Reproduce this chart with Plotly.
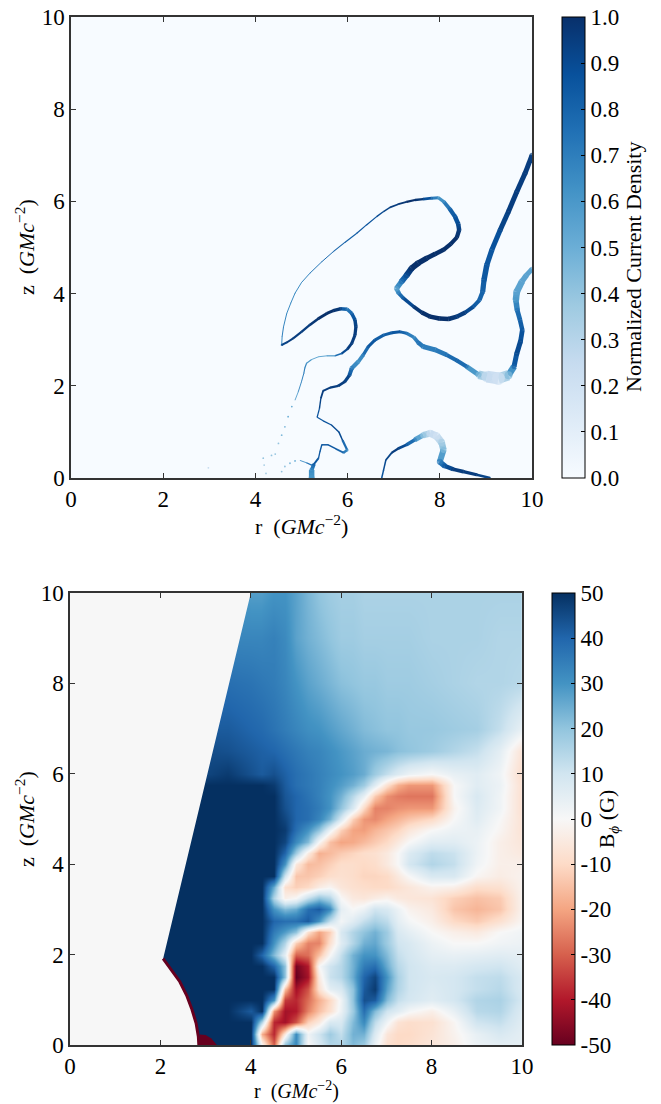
import plotly.graph_objects as go

# ---------- top panel: current-sheet strands (r, z, width px, normalized J) ----------
A_R = [4.57,4.58,4.61,4.68,4.77,4.86,5.00,5.18,5.44,5.69,5.94,6.20,6.41,6.63,6.78,6.92,7.10,7.28,7.46,7.64,7.82,7.97,8.09,8.22,8.33,8.40,8.42,8.37,8.24,8.08,7.90,7.72,7.53,7.39,7.28,7.17,7.06,7.11,7.21,7.43,7.61,7.79,7.99,8.19,8.37,8.55,8.73,8.86,8.93,8.96,9.02,9.13,9.31,9.49,9.67,9.85,10.0]
A_Z = [2.885,3.07,3.28,3.57,3.80,4.01,4.24,4.44,4.69,4.91,5.11,5.31,5.49,5.67,5.78,5.87,5.94,5.99,6.03,6.05,6.07,6.08,5.99,5.83,5.67,5.51,5.38,5.22,5.08,4.95,4.86,4.77,4.66,4.55,4.40,4.26,4.11,4.01,3.90,3.72,3.59,3.50,3.46,3.45,3.50,3.59,3.72,3.86,4.04,4.30,4.62,4.95,5.38,5.78,6.21,6.61,7.0]
A_W = [1,1,1,1,1,1,1,1,1,1,1.1,1.2,1.2,1.3,1.4,1.5,1.8,2,2.2,2.5,3,3,3.5,4,4.5,4.5,4.5,4,4,4.5,4.5,5,6,6,6,5.5,5,4,3.5,3.5,4,4.5,4.5,4.5,4.5,4,4,4,5,5.5,5.5,5,5,5,5,5,5]
A_V = [.6,.7,.7,.65,.65,.65,.65,.7,.75,.8,.8,.85,.85,.9,.9,.95,.95,1,1,.95,.8,.6,.65,.8,.85,.9,.95,1,1,1,1,1,1,1,.9,.75,.55,.7,.85,.95,1,1,1,1,.95,.95,.85,.8,.8,.85,.85,.85,.9,.95,.95,.95,.95]

B_R = [4.57,4.68,4.82,5.00,5.18,5.37,5.55,5.69,5.84,5.99,6.09,6.16,6.18,6.16,6.09,6.00,5.87,5.73,5.55,5.37,5.22,5.11,5.07,5.05,5.00,4.93,4.86]
B_Z = [2.885,2.94,3.03,3.17,3.32,3.46,3.57,3.63,3.67,3.66,3.57,3.43,3.28,3.10,2.92,2.80,2.70,2.65,2.65,2.63,2.57,2.49,2.38,2.27,2.09,1.87,1.69]
B_W = [2,2,2,2.2,2.5,2.8,3,3,3.5,3.5,3.5,3.5,3.5,3,3,2.5,1.8,1.3,1,1,1,1.2,1.2,1,1,.9,.8]
B_V = [.9,.95,.95,.95,.95,1,1,1,.95,.7,.8,.9,.95,.95,.95,.95,.85,.7,.55,.5,.55,.65,.7,.7,.7,.65,.55]

C_R = [10,9.88,9.78,9.67,9.65,9.68,9.74,9.79,9.75,9.67,9.61,9.49,9.27,9.02,8.84,8.58,8.37,8.15,7.90,7.64,7.53,7.44,7.28,7.14,6.96,6.78,6.59,6.45,6.34,6.23,6.09,6.04,5.94,5.80,5.62,5.47,5.42,5.39,5.34,5.47,5.65,5.81,5.89,5.99,5.91,5.75,5.58,5.44,5.40,5.37,5.27,5.22,5.22]
C_Z = [4.53,4.40,4.26,4.04,3.86,3.64,3.43,3.21,2.96,2.70,2.42,2.23,2.16,2.20,2.24,2.42,2.55,2.67,2.78,2.85,2.94,3.05,3.14,3.17,3.15,3.10,2.99,2.85,2.67,2.52,2.38,2.23,2.09,2.00,1.96,1.89,1.73,1.51,1.32,1.24,1.15,1.00,.82,.61,.55,.63,.72,.72,.57,.43,.30,.17,0]
C_W = [5,5,6,7,6,5,4.5,4.5,5,5,5,8,13,11,6,4,4,4,5,5,4,3.5,3,3,3,3,3,3,3.5,4,4.5,3.5,3,2.5,2,2,1.5,1.3,1.2,1.2,1.3,1.5,1.5,3,2,1.5,1.5,1.5,1.3,1.3,2.5,5,6]
C_V = [.55,.55,.55,.55,.6,.75,.8,.85,.9,.9,.8,.45,.2,.25,.45,.75,.8,.75,.7,.7,.75,.65,.75,.85,.85,.8,.85,.85,.7,.6,.7,.9,.95,.95,.95,.95,.95,.9,.85,.85,.9,.9,.9,.65,.75,.85,.85,.85,.85,.85,.85,.65,.6]

D_R = [6.74,6.78,6.83,6.96,7.10,7.28,7.46,7.64,7.79,7.93,8.04,8.08,8.00,8.11,8.29,8.51,8.80,9.09]
D_Z = [0,.17,.39,.55,.64,.72,.83,.93,.97,.91,.77,.61,.35,.26,.19,.14,.07,0]
D_W = [1.5,1.5,1.5,2,2.5,3,4,6,7,7.5,7,6,6,5,4,3.5,3,2]
D_V = [.85,.9,.9,.95,.95,.85,.7,.4,.25,.2,.35,.45,.7,.85,.95,.95,.95,.9]

E_R = [4.97,5.11,5.22]
E_Z = [.38,.33,.28]
E_W = [.8,1,1.5]
E_V = [.6,.7,.8]

DOT_R = [4.79,4.71,4.64,4.57,4.50,4.43,4.35,4.17,4.19,4.23,4.57,4.64,4.75,4.86,2.98]
DOT_Z = [1.55,1.33,1.11,.93,.75,.52,.49,.43,.28,.10,.14,.25,.32,.37,.22]
DOT_V = [.5,.5,.45,.45,.4,.4,.4,.4,.35,.35,.4,.4,.45,.5,.25]

# ---------- bottom panel: B_phi read on a grid ----------
GRID_R = [2,3,3.5,4,4.25,4.5,4.75,5,5.25,5.5,5.75,6,6.25,6.5,6.75,7,7.25,7.5,8,8.5,9,9.5,10]
GRID_Z = [0,.25,.5,.75,1,1.25,1.5,1.75,2,2.25,2.5,2.75,3,3.25,3.5,3.75,4,4.25,4.5,4.75,5,5.25,5.5,5.75,6,6.5,7,8,9,10]
BPHI = [
 [50,50,50,50,0,-30,20,32,0,8,15,15,22,18,3,-8,-10,-9,-6,-3,3,5,5],
 [50,50,50,50,-18,-38,-5,32,2,10,18,12,24,24,7,-6,-10,-10,-7,-2,4,8,5],
 [50,50,50,50,15,-38,-42,-32,-12,-5,8,8,22,32,13,2,-7,-9,-8,-1,10,12,6],
 [50,50,50,42,50,-22,-42,-40,-25,-15,-8,3,18,38,22,10,6,1,-3,4,14,15,7],
 [50,50,50,50,50,30,-35,-38,-28,-18,-10,2,20,44,42,22,12,9,6,9,15,16,9],
 [50,50,50,50,50,50,-15,-42,-32,-8,5,8,20,42,48,27,15,10,7,9,12,14,8],
 [50,50,50,50,50,50,20,-50,-42,-5,11,14,25,40,46,30,16,10,8,9,12,13,8],
 [50,50,50,50,50,40,20,-48,-40,0,10,14,24,35,38,25,14,10,7,7,9,10,6],
 [50,50,50,50,40,22,5,-30,-28,-15,0,12,24,30,30,22,12,9,5,4,5,6,5],
 [50,50,50,50,50,30,15,-12,-25,-25,-8,6,15,24,26,18,10,8,3,0,0,2,3],
 [50,50,50,50,50,35,28,20,-8,-20,-12,8,15,20,24,18,8,5,0,-3,-5,0,2],
 [50,50,50,50,50,40,38,38,42,30,12,1,6,12,16,13,5,1,-3,-10,-13,-8,-1],
 [50,50,50,50,50,30,22,25,38,42,32,5,0,3,10,8,3,-2,-5,-14,-17,-14,-2],
 [50,50,50,50,50,15,-3,0,12,20,15,0,-5,-6,-4,-2,-5,-6,-7,-12,-15,-13,-2],
 [50,50,50,50,50,25,-8,-12,-10,-4,-1,-6,-8,-9,-10,-10,-8,-6,-2,-3,-9,-8,-2],
 [50,50,50,50,50,50,10,-14,-14,-12,-9,-8,-9,-11,-11,-10,-5,0,8,8,-1,-4,-2],
 [50,50,50,50,50,50,30,-5,-16,-15,-12,-9,-9,-10,-9,-5,0,9,15,12,2,-3,-3],
 [50,50,50,50,50,50,40,18,-4,-18,-16,-13,-11,-9,-8,-5,0,7,13,11,3,-3,-5],
 [50,50,50,50,50,50,46,32,22,0,-15,-20,-19,-16,-13,-10,-5,0,6,6,3,-3,-6],
 [50,50,50,50,50,50,48,38,30,20,3,-12,-20,-21,-17,-14,-11,-6,0,3,4,-1,-7],
 [50,50,50,50,50,50,46,40,38,33,24,8,-12,-22,-24,-20,-17,-14,-10,0,6,0,-7],
 [50,50,50,50,50,50,44,40,38,35,30,20,8,-10,-25,-25,-23,-22,-22,-2,7,2,-8],
 [50,50,50,50,50,50,43,40,37,34,30,24,14,4,-13,-23,-26,-27,-27,0,8,2,-8],
 [50,50,50,50,50,48,42,38,36,34,31,28,24,18,6,-8,-18,-22,-22,0,6,3,-8],
 [50,46,48,44,42,44,41,38,36,34,32,30,28,25,18,12,7,3,0,4,6,2,-9],
 [45,45,44,42,41,40,38,36,34,33,31,29,27,25,24,23,21,20,18,15,12,5,-7],
 [42,42,42,40,39,37,35,33,31,30,28,26,24,22,21,20,20,19,19,18,17,12,4],
 [38,38,38,37,36,35,33,30,27,25,23,21,20,19,19,18,18,18,17,16,15,15,14],
 [33,33,33,33,33,34,32,27,24,22,20,18,18,17,17,17,17,17,16,16,16,15,15],
 [30,30,30,28,28,30,30,27,23,20,18,17,17,16,16,16,16,16,16,16,16,16,16],
]
# inner boundary (horizon rim), wedge edge and small red cap
RIM_R = [2.06,2.25,2.43,2.58,2.69,2.79,2.84,2.85]
RIM_Z = [1.91,1.66,1.40,1.10,.81,.48,.18,0]
WEDGE_TOP_R = 4.0
CAP_R = [2.87,2.87,3.0,3.12,3.25]
CAP_Z = [0,.23,.22,.15,0]

XTICKS = [0,2,4,6,8,10]
J_TICKS = [0,.1,.2,.3,.4,.5,.6,.7,.8,.9,1.0]
B_TICKS = [-50,-40,-30,-20,-10,0,10,20,30,40,50]

BLUES = ["#f7fbff","#deebf7","#c6dbef","#9ecae1","#6baed6","#4292c6","#2171b5","#08519c","#08306b"]
RDBU = ["#67001f","#b2182b","#d6604d","#f4a582","#fddbc7","#f7f7f7","#d1e5f0","#92c5de","#4393c3","#2166ac","#053061"]
FONT = "Liberation Serif"
W, H = 661, 1104
TICK_SIZE = 23
TITLE_SIZE = 22

def scale(cols):
    n = len(cols) - 1
    return [[i / n, c] for i, c in enumerate(cols)]

def blues_at(v):
    n = len(BLUES) - 1
    t = max(0, min(1, v)) * n
    i = min(int(t), n - 1)
    f = t - i
    a = [int(BLUES[i][k:k+2], 16) for k in (1, 3, 5)]
    b = [int(BLUES[i+1][k:k+2], 16) for k in (1, 3, 5)]
    return "rgb(%d,%d,%d)" % tuple(round(x + (y - x) * f) for x, y in zip(a, b))

fig = go.Figure()

for rr, zz, ww, vv in [(A_R,A_Z,A_W,A_V),(B_R,B_Z,B_W,B_V),(C_R,C_Z,C_W,C_V),(D_R,D_Z,D_W,D_V),(E_R,E_Z,E_W,E_V)]:
    for i in range(len(rr) - 1):
        fig.add_trace(go.Scatter(x=rr[i:i+2], y=zz[i:i+2], mode="lines",
            line=dict(color=blues_at((vv[i] + vv[i+1]) / 2), width=(ww[i] + ww[i+1]) / 2),
            hoverinfo="skip", showlegend=False, xaxis="x", yaxis="y"))
    fig.add_trace(go.Scatter(x=rr, y=zz, mode="markers",
        marker=dict(size=ww, color=vv, coloraxis="coloraxis", line=dict(width=0)),
        hoverinfo="skip", showlegend=False, xaxis="x", yaxis="y"))
fig.add_trace(go.Scatter(x=DOT_R, y=DOT_Z, mode="markers",
    marker=dict(size=1.8, color=DOT_V, coloraxis="coloraxis", line=dict(width=0)),
    hoverinfo="skip", showlegend=False, xaxis="x", yaxis="y"))

fig.add_trace(go.Heatmap(x=GRID_R, y=GRID_Z, z=BPHI, zsmooth="best", coloraxis="coloraxis2",
    hoverinfo="skip", xaxis="x2", yaxis="y2"))
fig.add_trace(go.Scatter(x=[0, 0, WEDGE_TOP_R] + RIM_R, y=[0, 10, 10] + RIM_Z, mode="lines",
    fill="toself", fillcolor=RDBU[5], line=dict(width=0, color=RDBU[5]),
    hoverinfo="skip", showlegend=False, xaxis="x2", yaxis="y2"))
fig.add_trace(go.Scatter(x=RIM_R, y=RIM_Z, mode="lines", line=dict(color=RDBU[0], width=3),
    hoverinfo="skip", showlegend=False, xaxis="x2", yaxis="y2"))
fig.add_trace(go.Scatter(x=CAP_R, y=CAP_Z, mode="lines", fill="toself", fillcolor=RDBU[0],
    line=dict(width=0, color=RDBU[0]), hoverinfo="skip", showlegend=False, xaxis="x2", yaxis="y2"))

def axis(domain, anchor):
    return dict(domain=domain, anchor=anchor, range=[0, 10], tickmode="array", tickvals=XTICKS,
                ticktext=[str(t) for t in XTICKS], ticks="inside", ticklen=5, tickwidth=1,
                tickcolor="#333333", showline=True, linecolor="#333333", linewidth=1.5,
                mirror="ticks", showgrid=False, zeroline=False, automargin=False,
                tickfont=dict(family=FONT, size=TICK_SIZE, color="black"))

def cbar(title, x0, y0, length, ticks, labels):
    return dict(title=dict(text=title, side="right", font=dict(family=FONT, size=TITLE_SIZE, color="black")),
                x=x0 / W, xanchor="left", xpad=0, y=1 - y0 / H, yanchor="bottom", ypad=0,
                thickness=23, thicknessmode="pixels", len=length, lenmode="pixels",
                tickmode="array", tickvals=ticks, ticktext=labels, ticks="inside", ticklen=4,
                tickcolor="black", tickfont=dict(family=FONT, size=TICK_SIZE, color="black"),
                outlinecolor="black", outlinewidth=1)

AXIS_LABEL = "<i>GMc</i><sup>\u22122</sup>"
def label(x, y, text, angle=0, size=TITLE_SIZE):
    return dict(xref="paper", yref="paper", x=x / W, y=1 - y / H, text=text, showarrow=False,
                textangle=angle, xanchor="center", yanchor="middle",
                font=dict(family=FONT, size=size, color="black"))

fig.update_layout(
    width=W, height=H, margin=dict(l=0, r=0, t=0, b=0, autoexpand=False), paper_bgcolor="white", plot_bgcolor=BLUES[0],
    showlegend=False, font=dict(family=FONT, color="black"),
    xaxis=axis([71 / W, 532 / W], "y"), yaxis=axis([1 - 478 / H, 1 - 17 / H], "x"),
    xaxis2=axis([70 / W, 522 / W], "y2"), yaxis2=axis([1 - 1045 / H, 1 - 593 / H], "x2"),
    coloraxis=dict(cmin=0, cmax=1, colorscale=scale(BLUES),
                   colorbar=cbar("", 562, 478, 461, J_TICKS, ["%.1f" % t for t in J_TICKS])),
    coloraxis2=dict(cmin=-50, cmax=50, colorscale=scale(RDBU),
                    colorbar=cbar("B<sub><i>\u03d5</i></sub> (G)", 552, 1045, 452, B_TICKS, [str(t) for t in B_TICKS])),
    annotations=[
        label(301, 525, "r\u2002(" + AXIS_LABEL + ")"),
        label(296, 1090, "r\u2002(" + AXIS_LABEL + ")", size=20),
        label(25, 247, "z\u2002(" + AXIS_LABEL + ")", -90),
        label(25, 819, "z\u2002(" + AXIS_LABEL + ")", -90),
        label(633, 267, "Normalized Current Density", -90),
    ],
)

fig.write_html("out.html", config={"displayModeBar": False},
               post_script="document.body.style.margin='0';document.body.style.overflow='hidden';")
